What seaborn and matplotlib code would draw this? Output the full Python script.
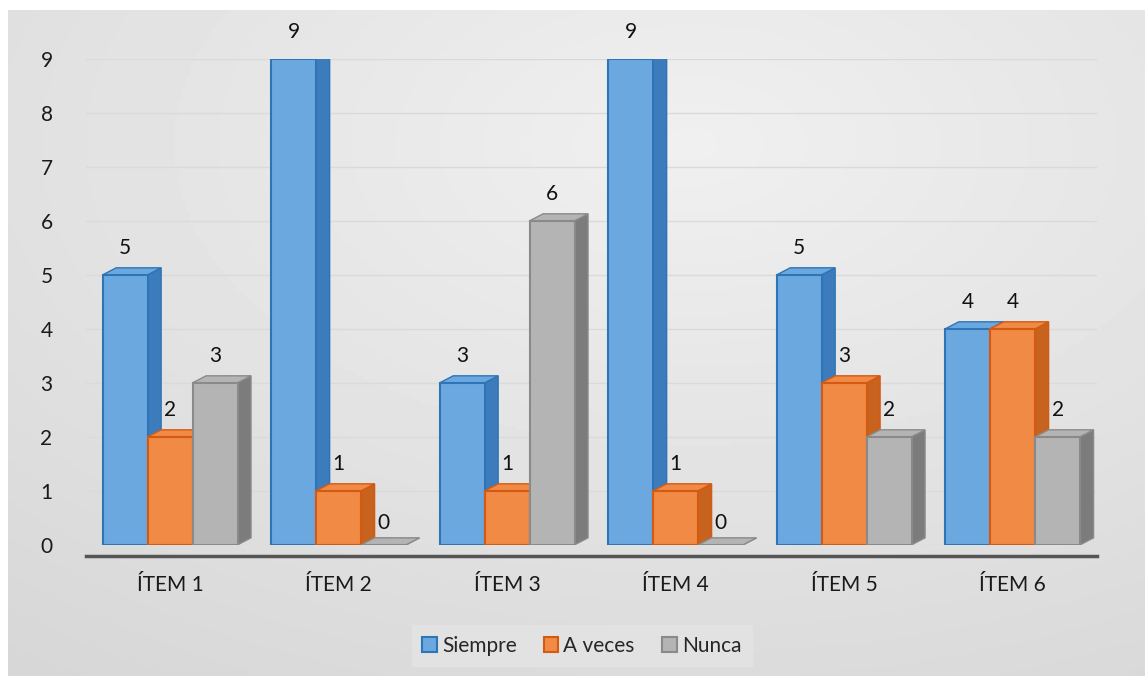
import numpy as np
import pandas as pd
import matplotlib
matplotlib.use("Agg")
import matplotlib.pyplot as plt
from matplotlib.patches import Polygon, Patch
import seaborn as sns

items = ["ÍTEM 1", "ÍTEM 2", "ÍTEM 3", "ÍTEM 4", "ÍTEM 5", "ÍTEM 6"]
series = ["Siempre", "A veces", "Nunca"]
siempre = [5, 9, 3, 9, 5, 4]
a_veces = [2, 1, 1, 1, 3, 4]
nunca = [3, 0, 6, 0, 2, 2]
yticks = list(range(0, 10))

face_colors = {"Siempre": "#6CA8E0", "A veces": "#F08A45", "Nunca": "#B4B4B4"}
edge_colors = {"Siempre": "#2E75B6", "A veces": "#D45A12", "Nunca": "#8A8A8A"}
side_colors = {"Siempre": "#3D7CBC", "A veces": "#C8621F", "Nunca": "#7C7C7C"}

df = pd.DataFrame({
    "item": np.repeat(items, 3),
    "serie": series * len(items),
    "valor": np.ravel(np.column_stack([siempre, a_veces, nunca])),
})

sns.set_theme(style="white")
plt.rcParams["font.family"] = ["Lato", "DejaVu Sans"]

fig = plt.figure(figsize=(11.45, 6.76), dpi=100)
fig.patch.set_facecolor("white")

# gradient background
bg = fig.add_axes([0.007, 0.0, 0.993, 0.985], zorder=0)
yy, xx = np.mgrid[0:1:200j, 0:1:300j]
r = np.sqrt(((xx - 0.6) / 1.0) ** 2 + ((yy - 0.8) / 1.0) ** 2)
bg.imshow(0.94 - 0.10 * np.clip(r, 0, 1), cmap="gray", vmin=0, vmax=1,
          aspect="auto", extent=[0, 1, 0, 1], origin="lower")
bg.set_axis_off()

ax = fig.add_axes([0.075, 0.194, 0.883, 0.719], zorder=1)
ax.patch.set_alpha(0)
sns.barplot(data=df, x="item", y="valor", hue="serie", hue_order=series,
            order=items, palette=face_colors, saturation=1, width=0.8, ax=ax,
            legend=False, zorder=3)

ax.set_ylim(0, 9)
ax.set_xlim(-0.5, 5.5)
ax.set_yticks(yticks)
ax.set_yticklabels([str(t) for t in yticks], fontsize=15, color="#1A1A1A")
ax.tick_params(axis="y", length=0, pad=24)
ax.tick_params(axis="x", length=0, pad=14, labelsize=15, labelcolor="#1A1A1A")
ax.set_xlabel("")
ax.set_ylabel("")
for s in ["left", "right", "top"]:
    ax.spines[s].set_visible(False)
ax.spines["bottom"].set_color("#555555")
ax.spines["bottom"].set_linewidth(2.5)
ax.spines["bottom"].set_position(("outward", 8))
ax.grid(axis="y", color="#DADADA", linewidth=1, zorder=0)
ax.set_axisbelow(True)

# 3D-like depth and value labels
dx, dy = 0.08, 0.13
vals = {"Siempre": siempre, "A veces": a_veces, "Nunca": nunca}
for container, serie in zip(ax.containers, series):
    for bar, v in zip(container, vals[serie]):
        x0 = bar.get_x(); w = bar.get_width(); h = bar.get_height()
        bar.set_edgecolor(edge_colors[serie]); bar.set_linewidth(1.5)
        side = Polygon([[x0 + w, 0], [x0 + w + dx, dy], [x0 + w + dx, h + dy], [x0 + w, h]],
                       closed=True, facecolor=side_colors[serie],
                       edgecolor=edge_colors[serie], linewidth=1, zorder=2)
        top = Polygon([[x0, h], [x0 + dx, h + dy], [x0 + w + dx, h + dy], [x0 + w, h]],
                      closed=True, facecolor=face_colors[serie],
                      edgecolor=edge_colors[serie], linewidth=1, zorder=2)
        ax.add_patch(side); ax.add_patch(top)
        if v == 0:
            ax.text(x0 + w / 2, 0.4, str(v), ha="center", va="center",
                    fontsize=15, color="#111111", clip_on=False)
        else:
            ax.text(x0 + w / 2, h + 0.5, str(v), ha="center", va="center",
                    fontsize=15, color="#111111", clip_on=False)

handles = [Patch(facecolor=face_colors[s], edgecolor=edge_colors[s], linewidth=1.5)
           for s in series]
leg = fig.legend(handles, series, loc="center", bbox_to_anchor=(0.508, 0.045),
                 ncol=3, fontsize=15, frameon=True, handlelength=0.7,
                 handleheight=0.7, handletextpad=0.25, columnspacing=1.3,
                 borderpad=0.5, fancybox=False)
leg.get_frame().set_facecolor("#E4E4E4")
leg.get_frame().set_edgecolor("#E4E4E4")

fig.savefig("out.png", dpi=100, facecolor=fig.get_facecolor())
